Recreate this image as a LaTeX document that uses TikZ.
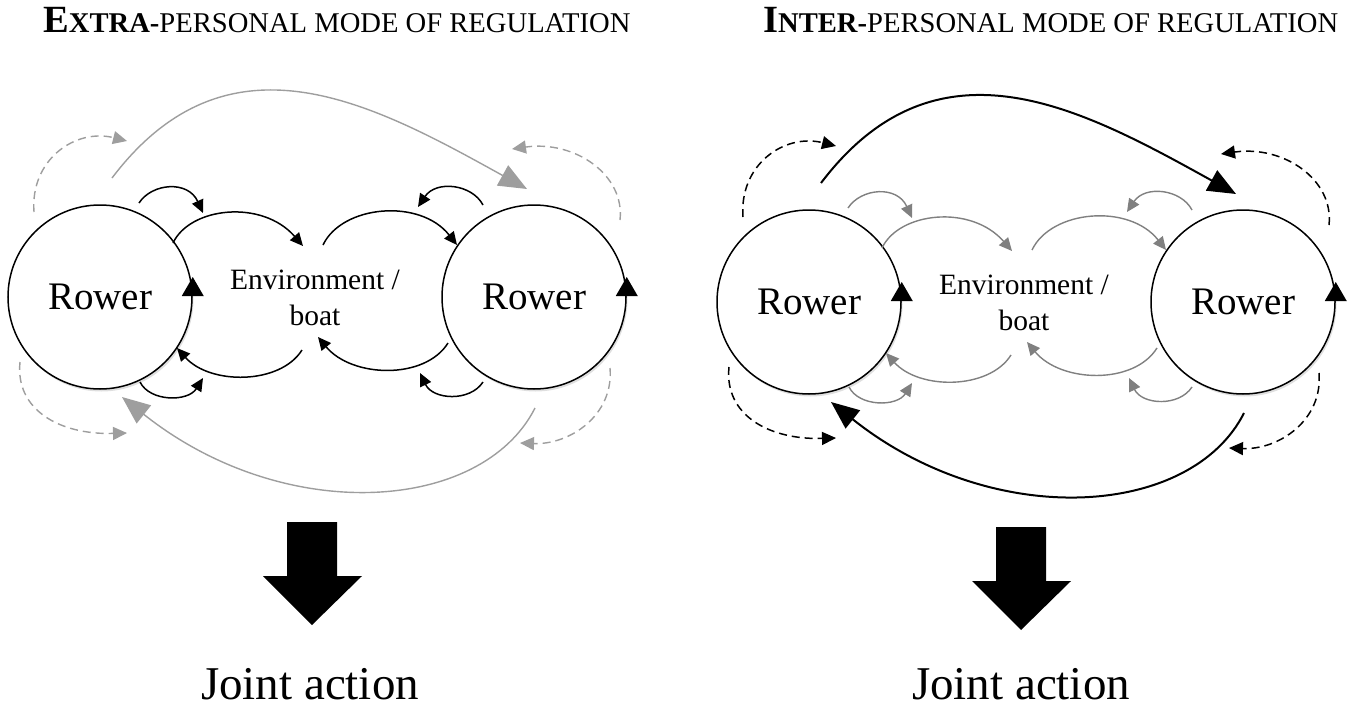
\documentclass[tikz,border=0pt]{standalone}
\usepackage{fontspec}
\setmainfont{Liberation Serif}
\usetikzlibrary{arrows.meta,shadows}
\tikzset{
  rower/.style={circle,draw,line width=1.5pt,fill=white,minimum size=184pt,inner sep=0pt,
    font=\fontsize{39}{42}\selectfont,
    drop shadow={opacity=0.25,shadow xshift=1.5pt,shadow yshift=-2.5pt}},
  envtext/.style={align=center,inner sep=0pt,font=\fontsize{29.5}{36}\selectfont},
  titletext/.style={anchor=base west,inner sep=0pt},
  jointtext/.style={anchor=base,inner sep=0pt,font=\fontsize{47}{50}\selectfont},
  blockarrow/.style={fill=black},
  smalltip/.style={-{Triangle[length=13pt,width=12pt]}},
  dashtip/.style={-{Triangle[length=14pt,width=13pt]}},
  bigtip/.style={-{Triangle[length=28pt,width=23pt]}}
}
\newcommand{\rowpanel}[1]{%
  \node[rower] (#1a) at (100,297) {Rower};
  \node[rower] (#1b) at (534,297) {Rower};
  \node[envtext] (#1e) at (315,298) {Environment /\\boat};
  \fill ([shift={(-11,-1)}]#1a.east) -- ([shift={(11,-1)}]#1a.east) -- ([shift={(0,-20)}]#1a.east) -- cycle;
  \fill ([shift={(-11,-1)}]#1b.east) -- ([shift={(11,-1)}]#1b.east) -- ([shift={(0,-20)}]#1b.east) -- cycle;
  % end points
  \coordinate (#1s1) at (112,178);  \coordinate (#1t1) at (527,189);
  \coordinate (#1s2) at (34,212);   \coordinate (#1t2) at (127,141);
  \coordinate (#1s3) at (620,220);  \coordinate (#1t3) at (512,149);
  \coordinate (#1s4) at (139,203);  \coordinate (#1t4) at (203,213);
  \coordinate (#1s5) at (173,243);  \coordinate (#1t5) at (303,246);
  \coordinate (#1s6) at (323,245);  \coordinate (#1t6) at (457,245);
  \coordinate (#1s7) at (483,205);  \coordinate (#1t7) at (418,207);
  \coordinate (#1s8) at (302,350);  \coordinate (#1t8) at (177,348);
  \coordinate (#1s9) at (140,382);  \coordinate (#1t9) at (203,378);
  \coordinate (#1s10) at (448,343); \coordinate (#1t10) at (318,337);
  \coordinate (#1s11) at (483,382); \coordinate (#1t11) at (420,373);
  \coordinate (#1s12) at (20,362);  \coordinate (#1t12) at (127,433);
  \coordinate (#1s13) at (610,368); \coordinate (#1t13) at (520,443);
  \coordinate (#1s14) at (535,408); \coordinate (#1t14) at (122,397);
  % outer loops
  \draw[outerbig,bigtip] (#1s1) .. controls (228,25) and (372,103) .. (#1t1);
  \draw[outerbig,bigtip] (#1s14) .. controls (482,513) and (284,526) .. (#1t14);
  \draw[outerdash,dashtip] (#1s2) .. controls (30,160) and (75,128) .. (#1t2);
  \draw[outerdash,dashtip] (#1s3) .. controls (625,175) and (575,140) .. (#1t3);
  \draw[outerdash,dashtip] (#1s12) .. controls (15,410) and (60,435) .. (#1t12);
  \draw[outerdash,dashtip] (#1s13) .. controls (614,415) and (570,445) .. (#1t13);
  % inner loops
  \draw[innerarc,smalltip] (#1s4) .. controls (152,183) and (188,180) .. (#1t4);
  \draw[innerarc,smalltip] (#1s5) .. controls (190,207) and (262,199) .. (#1t5);
  \draw[innerarc,smalltip] (#1s6) .. controls (342,205) and (420,198) .. (#1t6);
  \draw[innerarc,smalltip] (#1s7) .. controls (472,184) and (436,180) .. (#1t7);
  \draw[innerarc,smalltip] (#1s8) .. controls (280,385) and (210,385) .. (#1t8);
  \draw[innerarc,smalltip] (#1s9) .. controls (150,402) and (188,402) .. (#1t9);
  \draw[innerarc,smalltip] (#1s10) .. controls (425,380) and (352,378) .. (#1t10);
  \draw[innerarc,smalltip] (#1s11) .. controls (470,402) and (433,400) .. (#1t11);
  % down arrow
  \fill[blockarrow] (287,522) -- (337,522) -- (337,576) -- (362,576) -- (312,625) -- (263,576) -- (287,576) -- cycle;
}
\begin{document}
\begin{tikzpicture}[x=1pt,y=-1pt]
  \useasboundingbox (0,0) rectangle (1350,707);
  \node[titletext] (t1) at (43,32) {{\bfseries\fontsize{38.5}{40}\selectfont E\fontsize{28.6}{30}\selectfont XTRA-}\fontsize{28.6}{30}\selectfont PERSONAL MODE OF REGULATION};
  \node[titletext] (t2) at (763,32) {{\bfseries\fontsize{38.5}{40}\selectfont I\fontsize{28.6}{30}\selectfont NTER-}\fontsize{28.6}{30}\selectfont PERSONAL MODE OF REGULATION};
  \begin{scope}[
      innerarc/.style={draw=black,line width=1.5pt},
      outerbig/.style={draw=black!38,line width=1.4pt},
      outerdash/.style={draw=black!38,line width=1.4pt,dash pattern=on 8pt off 5pt}]
    \rowpanel{L}
  \end{scope}
  \begin{scope}[shift={(709,5)},
      innerarc/.style={draw=black!50,line width=1.4pt},
      outerbig/.style={draw=black,line width=2pt},
      outerdash/.style={draw=black,line width=1.5pt,dash pattern=on 8pt off 5pt}]
    \rowpanel{R}
  \end{scope}
  \node[jointtext] (j1) at (310,699) {Joint action};
  \node[jointtext] (j2) at (1021,699) {Joint action};
\end{tikzpicture}
\end{document}
